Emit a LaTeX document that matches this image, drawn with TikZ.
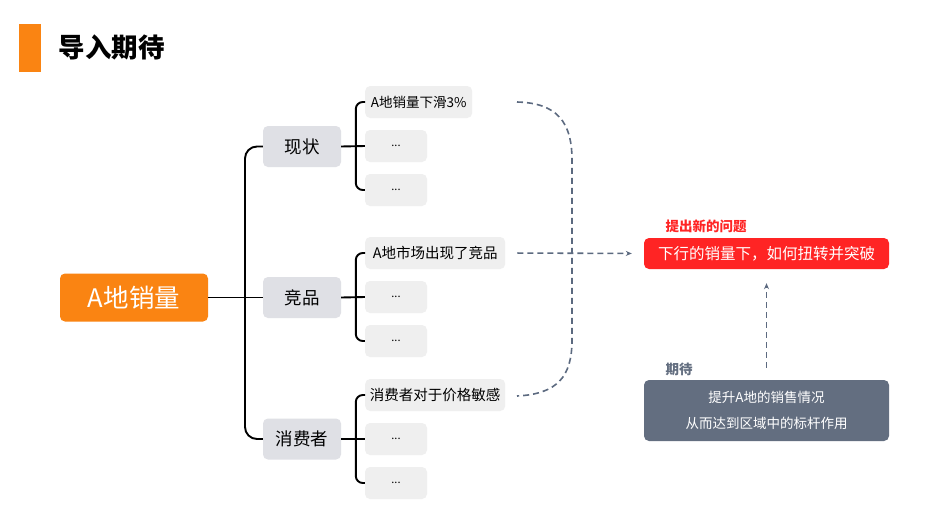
\documentclass[tikz,border=0pt]{standalone}
\usepackage{fontspec}
\setmainfont{Noto Sans CJK SC}
\usetikzlibrary{arrows.meta}

\definecolor{mainorange}{HTML}{FA8412}
\definecolor{hotred}{HTML}{FF2424}
\definecolor{slate}{HTML}{636E80}
\definecolor{branchgray}{HTML}{DFE0E5}
\definecolor{leafgray}{HTML}{EFEFEF}
\definecolor{dashgray}{HTML}{5C6A80}

\tikzset{
  box/.style={rounded corners=5pt, inner sep=0pt, align=center},
  rootbox/.style={box, fill=mainorange, text=white, minimum width=148pt, minimum height=48pt, font=\fontsize{25.5}{30}\selectfont},
  branchbox/.style={box, fill=branchgray, minimum width=78pt, minimum height=41pt, font=\fontsize{17.5}{20}\selectfont},
  leafbox/.style={box, fill=leafgray, minimum height=32pt, font=\fontsize{14.5}{17}\selectfont},
  link/.style={line width=1.9pt, rounded corners=12pt},
  dashlink/.style={dashgray, line width=1.6pt, dash pattern=on 6pt off 4pt},
}

\begin{document}
\begin{tikzpicture}[x=1pt, y=-1pt]
    \useasboundingbox[fill=white] (0,0) rectangle (931,522);
    % Title
    \fill[mainorange] (19,24) rectangle (41,72);
    \node[anchor=west, font=\bfseries\fontsize{26.5}{30}\selectfont] (title) at (55,47) {导入期待};
    % Mind map
    \node[rootbox] (root) at (134,297.5) {A地销量};
    \node[branchbox] (xz) at (302,146.5) {现状};
    \node[branchbox] (jp) at (302,297.5) {竞品};
    \node[branchbox] (xf) at (302,439) {消费者};
    \node[leafbox, anchor=west, minimum width=107pt, font=\fontsize{13.5}{16}\selectfont] (xz1) at (365,102) {A地销量下滑3\%};
    \node[leafbox, anchor=west, minimum width=140pt] (jp1) at (365,253) {A地市场出现了竞品};
    \node[leafbox, anchor=west, minimum width=140pt] (xf1) at (365,395) {消费者对于价格敏感};
    \foreach \b/\y in {xz/146, jp/297, xf/439} {
        \node[leafbox, minimum width=62pt, font=\fontsize{11}{13}\selectfont] (\b2) at (396,\y) {...};
        \node[leafbox, minimum width=62pt, font=\fontsize{11}{13}\selectfont] (\b3) at (396,\y+44) {...};
    }
    % Connectors
    \coordinate (hub) at (245,297.5);
    \draw[link] (root.east) -- (jp.west);
    \draw[link] (xz.west) -| (hub) |- (xf.west);
    \foreach \b in {xz, jp, xf} {
        \draw[link] (\b.east) -- (\b2.west);
        \draw[link, rounded corners=7pt] (\b1.west) -| ([xshift=-9pt]\b2.west) |- (\b3.west);
    }
    % Outcome boxes
    \node[box, fill=hotred, text=white, minimum width=245pt, minimum height=31pt, font=\fontsize{15.5}{18}\selectfont] (ask) at (766.5,253.5) {下行的销量下，如何扭转并突破};
    \node[box, fill=slate, text=white, minimum width=245pt, minimum height=61pt, font=\fontsize{13.5}{26}\selectfont] (hope) at (766.5,410.5) {提升A地的销售情况\\从而达到区域中的标杆作用};
    \node[anchor=west, text=hotred, font=\bfseries\fontsize{13.5}{16}\selectfont] (asklabel) at (662,226) {提出新的问题};
    \node[anchor=west, text=slate, font=\bfseries\fontsize{13.5}{16}\selectfont] (hopelabel) at (662,369) {期待};
    % Dashed links
    \coordinate (d1) at (517,102);
    \coordinate (d2) at (517,396);
    \draw[dashlink] (d1) .. controls (557,103) and (572,122) .. (572,160) -- (572,340) .. controls (572,377) and (557,394) .. (d2);
    \draw[dashlink, -{Stealth[length=6pt, width=5pt]}, shorten <=12pt, shorten >=12pt] (jp1.east) -- (ask.west);
    \draw[dashlink, -{Stealth[length=6pt, width=5pt]}, shorten <=12pt, shorten >=14pt] (hope.north) -- (ask.south);
\end{tikzpicture}
\end{document}
